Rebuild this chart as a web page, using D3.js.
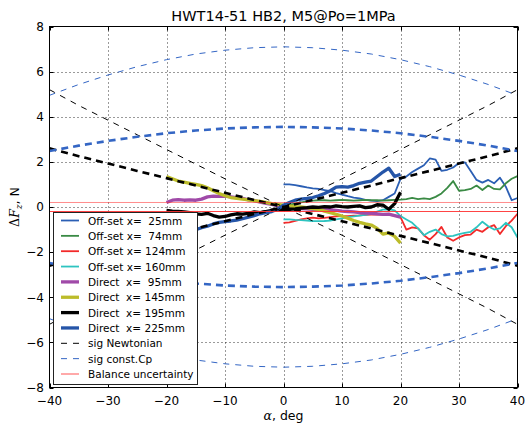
<!DOCTYPE html>
<html>
<head>
<meta charset="utf-8">
<script src="https://cdn.jsdelivr.net/npm/d3@7"></script>
<style>
  html, body { margin: 0; padding: 0; background: #fff; }
  svg { display: block; font-family: "DejaVu Sans", sans-serif; }
  .pre { white-space: pre; }
</style>
</head>
<body>
<svg id="chart" width="527" height="427"></svg>
<script>
// ---- data ----
const offsetAlpha = [0,1,2,3,4,5,6,7,8,9,10,11,12,13,14,15,16,17,18,19,20,21,22,23,24,25,26,27,28,29,30,31,32,33,34,35,36,37,38,39,40];
const directAlpha = [-20,-19,-18,-17,-16,-15,-14,-13,-12,-11,-10,-9,-8,-7,-6,-5,-4,-3,-2,-1,0,1,2,3,4,5,6,7,8,9,10,11,12,13,14,15,16,17,18,19,20];

const offset25 = [1.0,1.0,0.97,0.92,0.87,0.83,0.8,0.75,0.7,0.62,0.55,0.48,0.42,0.38,0.32,0.28,0.26,0.3,0.45,0.6,1.25,1.35,1.55,1.7,1.85,2.15,2.1,1.6,1.65,1.75,1.95,1.98,1.6,1.2,1.08,1.2,1.05,1.3,0.9,0.3,0.4];
const offset74 = [0.05,0.1,0.15,0.2,0.25,0.28,0.3,0.3,0.28,0.3,0.32,0.3,0.28,0.3,0.32,0.3,0.3,0.28,0.3,0.32,0.33,0.35,0.4,0.35,0.38,0.35,0.45,0.6,0.85,1.15,0.72,0.75,0.8,0.95,0.75,0.95,0.8,0.78,1.05,1.25,1.37];
const offset124 = [-0.7,-0.68,-0.62,-0.55,-0.5,-0.47,-0.5,-0.48,-0.45,-0.42,-0.4,-0.4,-0.38,-0.37,-0.35,-0.34,-0.33,-0.34,-0.35,-0.38,-0.45,-1.0,-0.9,-0.95,-1.25,-1.45,-1.2,-0.88,-1.35,-1.5,-1.35,-1.25,-1.22,-1.0,-1.1,-0.9,-0.8,-1.2,-0.85,-0.6,-0.3];
const offset160 = [-0.55,-0.55,-0.57,-0.58,-0.6,-0.62,-0.63,-0.62,-0.6,-0.55,-0.5,-0.45,-0.42,-0.38,-0.35,-0.3,-0.2,-0.12,-0.1,-0.15,-0.4,-0.55,-0.7,-0.95,-1.25,-1.1,-1.0,-1.2,-1.3,-1.28,-1.2,-1.15,-1.1,-0.9,-0.65,-0.85,-1.0,-0.95,-0.7,-0.9,-1.35];

const direct95 = [0.2,0.3,0.33,0.3,0.32,0.3,0.35,0.45,0.48,0.47,0.48,0.45,0.42,0.38,0.32,0.28,0.22,0.16,0.12,0.06,0.0,-0.03,-0.05,-0.07,-0.08,-0.1,-0.1,-0.12,-0.12,-0.15,-0.18,-0.2,-0.22,-0.25,-0.27,-0.28,-0.3,-0.33,-0.32,-0.38,-0.45];
const direct145 = [1.35,1.25,1.15,1.1,1.05,1.0,0.95,0.85,0.72,0.6,0.5,0.42,0.38,0.35,0.32,0.28,0.25,0.2,0.15,0.12,0.08,0.05,0.02,0.0,-0.03,-0.07,-0.1,-0.18,-0.25,-0.32,-0.4,-0.5,-0.6,-0.68,-0.75,-0.8,-0.95,-1.2,-1.15,-1.3,-1.6];
const direct195 = [-0.15,-0.18,-0.2,-0.22,-0.25,-0.3,-0.33,-0.28,-0.38,-0.45,-0.42,-0.35,-0.3,-0.32,-0.28,-0.22,-0.25,-0.2,-0.15,-0.12,-0.12,-0.1,-0.08,-0.05,-0.03,0.0,-0.02,0.02,0.0,0.05,0.02,0.0,0.03,0.05,-0.03,0.0,0.1,0.08,-0.1,0.15,0.65];
const direct225 = [-1.3,-1.25,-1.15,-1.1,-1.05,-1.0,-0.92,-0.85,-0.75,-0.68,-0.65,-0.62,-0.58,-0.52,-0.45,-0.38,-0.3,-0.25,-0.2,-0.1,0.08,0.2,0.3,0.35,0.38,0.42,0.5,0.6,0.72,0.88,0.9,0.88,0.95,1.05,1.1,1.15,1.35,1.55,1.72,1.35,1.45];

// uncertainty envelopes
const sigAlpha = [-40,-35,-30,-25,-20,-15,-10,-5,0,5,10,15,20,25,30,35,40];
const sigNewton = [5.2,4.5,3.85,3.2,2.55,1.9,1.25,0.62,0,-0.62,-1.25,-1.9,-2.55,-3.2,-3.85,-4.5,-5.2];
const sigNewtonHalf = [2.6,2.25,1.93,1.6,1.28,0.95,0.63,0.31,0,-0.31,-0.63,-0.95,-1.28,-1.6,-1.93,-2.25,-2.6];
const sigCp = [4.95,5.43,5.85,6.22,6.53,6.78,6.95,7.06,7.1,7.06,6.95,6.78,6.53,6.22,5.85,5.43,4.95];
const sigCpHalf = [2.48,2.72,2.93,3.11,3.27,3.39,3.48,3.53,3.55,3.53,3.48,3.39,3.27,3.11,2.93,2.72,2.48];
const balanceLimit = [0.2, -0.2];

const xTicks = [-40,-30,-20,-10,0,10,20,30,40];
const yTicks = [-8,-6,-4,-2,0,2,4,6,8];

const seriesLabels = ["Off-set x=  25mm","Off-set x=  74mm","Off-set x= 124mm","Off-set x= 160mm",
                      "Direct  x=  95mm","Direct  x= 145mm","Direct  x= 195mm","Direct  x= 225mm"];

// ---- layout ----
const svg = d3.select("#chart");
const W = 527, H = 427;
const x = d3.scaleLinear().domain([-40, 40]).range([49.5, 517.5]);
const y = d3.scaleLinear().domain([-8, 8]).range([387.5, 26.5]);

const series = [
  { label: seriesLabels[0], a: offsetAlpha, v: offset25,  color: "#2b5fb4", width: 1.8 },
  { label: seriesLabels[1], a: offsetAlpha, v: offset74,  color: "#3a8a44", width: 1.8 },
  { label: seriesLabels[2], a: offsetAlpha, v: offset124, color: "#f22a2a", width: 1.8 },
  { label: seriesLabels[3], a: offsetAlpha, v: offset160, color: "#2ec4c0", width: 1.8 },
  { label: seriesLabels[4], a: directAlpha, v: direct95,  color: "#a04aa8", width: 3.3 },
  { label: seriesLabels[5], a: directAlpha, v: direct145, color: "#bcbc2a", width: 3.3 },
  { label: seriesLabels[6], a: directAlpha, v: direct195, color: "#000000", width: 3.3 },
  { label: seriesLabels[7], a: directAlpha, v: direct225, color: "#2555a8", width: 3.3 }
];

// grid
const grid = svg.append("g");
grid.selectAll("line.gx").data(xTicks.slice(1, -1)).join("line")
  .attr("x1", d => Math.round(x(d)) + 0.5).attr("x2", d => Math.round(x(d)) + 0.5)
  .attr("y1", y(8)).attr("y2", y(-8))
  .attr("stroke", "#000").attr("stroke-width", 0.8).attr("stroke-dasharray", "1,3");
grid.selectAll("line.gy").data(yTicks.slice(1, -1)).join("line")
  .attr("y1", d => Math.round(y(d)) + 0.5).attr("y2", d => Math.round(y(d)) + 0.5)
  .attr("x1", x(-40)).attr("x2", x(40))
  .attr("stroke", "#000").attr("stroke-width", 0.8).attr("stroke-dasharray", "1,3");

// clip to axes
svg.append("clipPath").attr("id", "plotclip").append("rect")
  .attr("x", x(-40)).attr("y", y(8)).attr("width", x(40) - x(-40)).attr("height", y(-8) - y(8));
const plot = svg.append("g").attr("clip-path", "url(#plotclip)");

const line = d3.line().x(d => x(d[0])).y(d => y(d[1]));
const zip = (a, v) => a.map((t, i) => [t, v[i]]);

series.forEach(s => {
  plot.append("path").attr("d", line(zip(s.a, s.v)))
    .attr("fill", "none").attr("stroke", s.color).attr("stroke-width", s.width)
    .attr("stroke-linejoin", "round");
});

// envelopes
const neg = arr => arr.map(v => -v);
const envelopes = [
  { v: sigNewton,     color: "#000", width: 1,   dash: "6,6" },
  { v: neg(sigNewton), color: "#000", width: 1,  dash: "6,6" },
  { v: sigNewtonHalf, color: "#000", width: 2.6, dash: "7,5" },
  { v: neg(sigNewtonHalf), color: "#000", width: 2.6, dash: "7,5" },
  { v: sigCp,         color: "#3466c4", width: 1,   dash: "6,6" },
  { v: neg(sigCp),    color: "#3466c4", width: 1,   dash: "6,6" },
  { v: sigCpHalf,     color: "#3466c4", width: 2.6, dash: "7,5" },
  { v: neg(sigCpHalf), color: "#3466c4", width: 2.6, dash: "7,5" }
];
envelopes.forEach(e => {
  plot.append("path").attr("d", line(zip(sigAlpha, e.v)))
    .attr("fill", "none").attr("stroke", e.color).attr("stroke-width", e.width)
    .attr("stroke-dasharray", e.dash);
});

// balance uncertainty band limits
balanceLimit.forEach((b, i) => {
  plot.append("line").attr("x1", x(-40)).attr("x2", x(40))
    .attr("y1", y(b)).attr("y2", y(b))
    .attr("stroke", "#ff3030").attr("stroke-opacity", i === 0 ? 0.55 : 0.9).attr("stroke-width", 1);
});

// frame + ticks
const frame = svg.append("g");
frame.append("rect").attr("x", x(-40)).attr("y", y(8))
  .attr("width", x(40) - x(-40)).attr("height", y(-8) - y(8))
  .attr("fill", "none").attr("stroke", "#000").attr("stroke-width", 1);
const tl = 4;
xTicks.forEach(t => {
  const px = Math.round(x(t)) + 0.5;
  frame.append("line").attr("x1", px).attr("x2", px).attr("y1", y(-8)).attr("y2", y(-8) - tl).attr("stroke", "#000");
  frame.append("line").attr("x1", px).attr("x2", px).attr("y1", y(8)).attr("y2", y(8) + tl).attr("stroke", "#000");
});
yTicks.forEach(t => {
  const py = Math.round(y(t)) + 0.5;
  frame.append("line").attr("y1", py).attr("y2", py).attr("x1", x(-40)).attr("x2", x(-40) + tl).attr("stroke", "#000");
  frame.append("line").attr("y1", py).attr("y2", py).attr("x1", x(40)).attr("x2", x(40) - tl).attr("stroke", "#000");
});

// tick labels
const fmt = d => (d < 0 ? "\u2212" + Math.abs(d) : String(d));
svg.append("g").selectAll("text").data(xTicks).join("text")
  .attr("x", d => x(d)).attr("y", 405).attr("text-anchor", "middle")
  .attr("font-size", 12).text(fmt);
svg.append("g").selectAll("text").data(yTicks).join("text")
  .attr("x", 44).attr("y", d => y(d) + 4.3).attr("text-anchor", "end")
  .attr("font-size", 12).text(fmt);

// title and axis labels
svg.append("text").attr("x", x(0)).attr("y", 21).attr("text-anchor", "middle")
  .attr("font-size", 14.5).text("HWT14-51 HB2, M5@Po=1MPa");

const xl = svg.append("text").attr("x", x(0)).attr("y", 420).attr("text-anchor", "middle").attr("font-size", 12.5);
xl.append("tspan").attr("font-style", "italic").attr("font-family", "DejaVu Serif").text("\u03b1");
xl.append("tspan").text(", deg");

const yl = svg.append("text").attr("transform", `translate(19,${y(0)}) rotate(-90)`)
  .attr("text-anchor", "middle").attr("font-size", 12.5);
yl.append("tspan").attr("font-family", "DejaVu Serif").text("\u0394");
yl.append("tspan").attr("font-family", "DejaVu Serif").attr("font-style", "italic").text("F");
yl.append("tspan").attr("font-family", "DejaVu Serif").attr("font-style", "italic").attr("font-size", 9).attr("dy", 3).text("z");
yl.append("tspan").attr("dy", -3).text(", N");

// legend
const legendItems = series.map(s => ({ label: s.label, color: s.color, width: s.width, dash: null }))
  .concat([
    { label: "sig Newtonian", color: "#000", width: 1, dash: "6,6" },
    { label: "sig const.Cp", color: "#3466c4", width: 1, dash: "6,6" },
    { label: "Balance uncertainty", color: "#ff3030", width: 1.5, dash: null, opacity: 0.55 }
  ]);
const lg = svg.append("g");
lg.append("rect").attr("x", 53.5).attr("y", 212.5).attr("width", 144).attr("height", 172)
  .attr("fill", "#fff").attr("stroke", "#222").attr("stroke-width", 1);
legendItems.forEach((it, i) => {
  const cy = 220.5 + i * 15.35;
  lg.append("line").attr("x1", 61).attr("x2", 79).attr("y1", cy).attr("y2", cy)
    .attr("stroke", it.color).attr("stroke-width", it.width)
    .attr("stroke-dasharray", it.dash).attr("stroke-opacity", it.opacity || 1);
  lg.append("text").attr("class", "pre").attr("x", 88).attr("y", cy + 4)
    .attr("font-size", 10.5).text(it.label);
});
</script>
</body>
</html>
